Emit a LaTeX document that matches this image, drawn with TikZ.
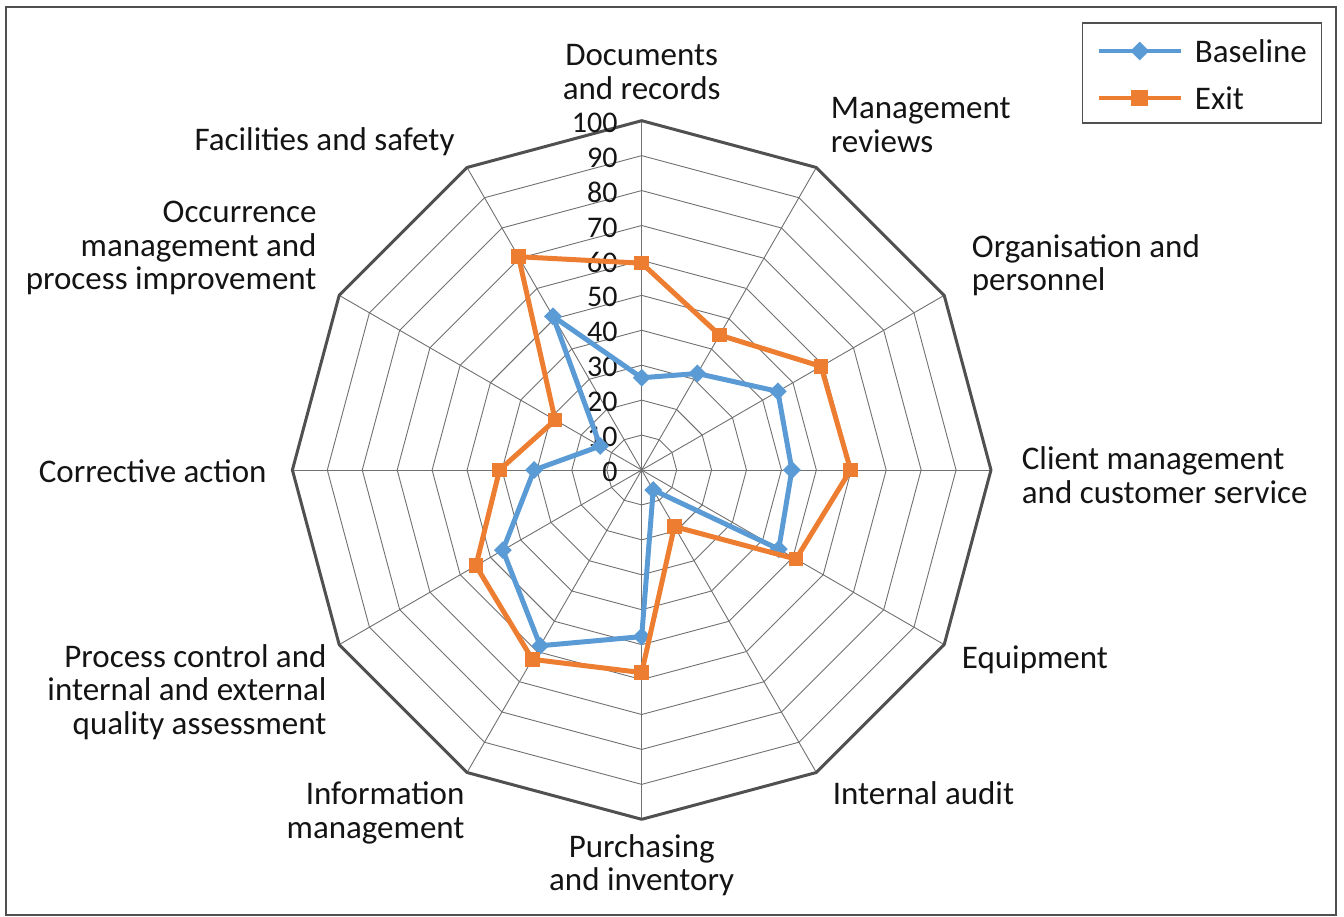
\documentclass[tikz,border=0pt]{standalone}
\usepackage{fontspec}
\setmainfont{Carlito}
\usepackage{tikz}
\usetikzlibrary{calc, shapes.geometric}
\tikzset{>=latex}
\definecolor{myblue}{RGB}{91, 155, 213}
\definecolor{myorange}{RGB}{237, 125, 49}
\definecolor{mygray}{RGB}{112, 112, 112}
\definecolor{mygray2}{RGB}{80, 80, 80}
\definecolor{mytext}{RGB}{20, 20, 20}
\tikzset{
  gridline/.style = {mygray, line width = 0.9pt},
  outerline/.style = {mygray2, line width = 3pt, line join = round},
  lbl/.style = {inner sep = 0, text = mytext, font = \fontsize{33}{33.5}\selectfont},
  ticklbl/.style = {inner sep = 0, anchor = east, text = mytext, font = \fontsize{30}{30}\selectfont},
  bline/.style = {myblue, line width = 5pt, line join = round},
  eline/.style = {myorange, line width = 5pt, line join = round},
  bmark/.style = {diamond, fill = myblue, inner sep = 0, minimum size = 18pt},
  emark/.style = {rectangle, fill = myorange, inner sep = 0, minimum size = 14.5pt}
}
\newcommand{\rr}{3.493}

\begin{document}
\begin{tikzpicture}[x = 1pt, y = 1pt]
\useasboundingbox (-641.7,-447) rectangle (702.3,470);
\draw[mygray2, line width = 1.5pt] (-635.7,-445) rectangle (694.3,463);
\coordinate (c) at (0,0);
\foreach \k in {1,...,9} {
  \draw[gridline] (90:{\k*10*\rr}) \foreach \a in {60,30,...,-240} { -- (\a:{\k*10*\rr}) } -- cycle;
}
\foreach \a in {90,60,...,-240} \draw[gridline] (c) -- (\a:{100*\rr});
\draw[outerline] (90:{100*\rr}) \foreach \a in {60,30,...,-240} { -- (\a:{100*\rr}) } -- cycle;
\foreach \v in {0,10,...,100} \node[ticklbl] (t\v) at (-24, {\v*\rr - 2}) {\v};

\foreach \v [count = \i] in {26.4, 31.9, 45, 43, 45.3, 6.6, 47.7, 58.1, 45.9, 30.8, 13.7, 50.8}
  \coordinate (b\i) at ({120 - 30*\i}:{\v*\rr});
\foreach \v [count = \i] in {59.2, 44.6, 59.3, 59.8, 51, 18.7, 58, 62.6, 54.8, 40.7, 28.6, 70.5}
  \coordinate (e\i) at ({120 - 30*\i}:{\v*\rr});
\draw[bline] (b1) \foreach \i in {2,...,12} { -- (b\i) } -- cycle;
\foreach \i in {1,...,12} \node[bmark] (bm\i) at (b\i) {};
\draw[eline] (e1) \foreach \i in {2,...,12} { -- (e\i) } -- cycle;
\foreach \i in {1,...,12} \node[emark] (em\i) at (e\i) {};

\node[lbl, align = center] (docs) at (0, 398) {Documents\\and records};
\node[lbl, align = left, anchor = west] (mgmt) at (189, 345) {Management\\reviews};
\node[lbl, align = left, anchor = west] (org) at (330, 205) {Organisation and\\personnel};
\node[lbl, align = left, anchor = west] (client) at (380, -5) {Client management\\and customer service};
\node[lbl, anchor = west] (equip) at (320, -190) {Equipment};
\node[lbl, anchor = west] (audit) at (191, -323) {Internal audit};
\node[lbl, align = center] (purch) at (0, -395) {Purchasing\\and inventory};
\node[lbl, align = right, anchor = east] (info) at (-177, -343) {Information\\management};
\node[lbl, align = right, anchor = east] (proc) at (-315, -222) {Process control and\\internal and external\\quality assessment};
\node[lbl, anchor = east] (corr) at (-375, -1) {Corrective action};
\node[lbl, align = right, anchor = east] (occ) at (-325, 222) {Occurrence\\management and\\process improvement};
\node[lbl, anchor = east] (fac) at (-187, 328) {Facilities and safety};

\draw[mygray2, line width = 1.5pt] (441,447) rectangle (680,347);
\coordinate (lb1) at (457,419);
\coordinate (lb2) at (539,419);
\draw[bline, line width = 3.5pt] (lb1) -- (lb2);
\node[bmark, minimum size = 19pt] (lbm) at ($(lb1)!0.5!(lb2)$) {};
\node[lbl, anchor = west] (lbt) at (553,419) {Baseline};
\coordinate (le1) at (457,372);
\coordinate (le2) at (539,372);
\draw[eline, line width = 3.5pt] (le1) -- (le2);
\node[emark, minimum size = 16.5pt] (lem) at ($(le1)!0.5!(le2)$) {};
\node[lbl, anchor = west] (let) at (553,372) {Exit};
\end{tikzpicture}
\end{document}
